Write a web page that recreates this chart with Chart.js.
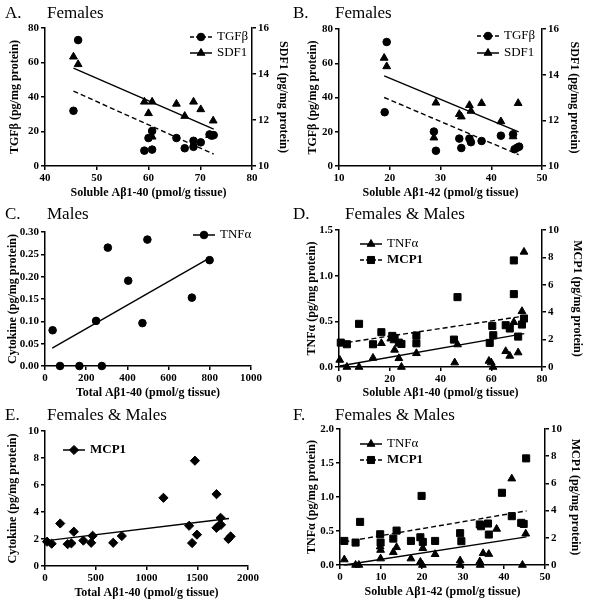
<!DOCTYPE html>
<html>
<head>
<meta charset="utf-8">
<script src="https://cdn.jsdelivr.net/npm/chart.js@4.4.1/dist/chart.umd.min.js"></script>
<style>
    body { margin: 0; background: #fff; }
    #page { position: relative; width: 600px; height: 602px; overflow: hidden; }
    canvas { position: absolute; }
    .head {
        position: absolute;
        font-family: "Liberation Serif", "Times New Roman", serif;
        font-size: 17px;
        line-height: 1;
        color: #000;
        white-space: nowrap;
    }
</style>
</head>
<body>
<div id="page">
    <canvas id="chart_a" width="300" height="200" style="left:0;top:0"></canvas>
    <canvas id="chart_b" width="300" height="200" style="left:300px;top:0"></canvas>
    <canvas id="chart_c" width="300" height="200" style="left:0;top:200px"></canvas>
    <canvas id="chart_d" width="300" height="200" style="left:300px;top:200px"></canvas>
    <canvas id="chart_e" width="300" height="202" style="left:0;top:400px"></canvas>
    <canvas id="chart_f" width="300" height="202" style="left:300px;top:400px"></canvas>

    <div class="head" style="left:5px;top:4px">A.</div>
    <div class="head" style="left:47px;top:4px">Females</div>
    <div class="head" style="left:293px;top:4px">B.</div>
    <div class="head" style="left:335px;top:4px">Females</div>
    <div class="head" style="left:5px;top:205px">C.</div>
    <div class="head" style="left:47px;top:205px">Males</div>
    <div class="head" style="left:293px;top:205px">D.</div>
    <div class="head" style="left:345px;top:205px">Females &amp; Males</div>
    <div class="head" style="left:5px;top:406px">E.</div>
    <div class="head" style="left:47px;top:406px">Females &amp; Males</div>
    <div class="head" style="left:293px;top:406px">F.</div>
    <div class="head" style="left:335px;top:406px">Females &amp; Males</div>
</div>
<script>
// Panel A: soluble Ab1-40, females
var a_tgf_x = [46.4, 45.5, 59.2, 60.0, 60.7, 60.7, 65.4, 67.0, 68.7, 68.7, 70.1, 71.8, 72.2, 72.6];
var a_tgf_y = [73.0, 32.0, 8.9, 16.2, 20.3, 9.5, 16.2, 10.3, 14.6, 11.1, 13.7, 18.3, 17.6, 17.9];
var a_sdf_x = [45.5, 46.4, 59.2, 60.0, 60.7, 60.7, 65.4, 67.0, 68.7, 70.1, 71.8, 72.5];
var a_sdf_y = [14.75, 14.42, 12.79, 12.29, 12.79, 11.27, 12.70, 12.17, 12.79, 12.46, 11.34, 11.97];
var a_fit_tgf = [[45.5, 43.4], [72.6, 6.9]];
var a_fit_sdf = [[45.5, 14.26], [72.6, 11.6]];

// Panel B: soluble Ab1-42, females
var b_tgf_x = [19.4, 19.0, 28.7, 29.1, 33.7, 34.1, 35.7, 36.0, 38.1, 41.9, 44.3, 44.6, 45.1, 45.5];
var b_tgf_y = [72.4, 31.4, 20.1, 8.9, 16.0, 10.5, 16.0, 13.9, 14.6, 17.7, 18.5, 9.8, 10.7, 11.3];
var b_sdf_x = [18.9, 19.4, 29.1, 28.7, 33.7, 34.1, 35.7, 36.0, 38.1, 41.9, 44.3, 45.3];
var b_sdf_y = [14.73, 14.36, 12.77, 11.24, 12.27, 12.16, 12.66, 12.41, 12.75, 11.95, 11.29, 12.75];
var b_fit_tgf = [[18.9, 40.0], [45.4, 6.6]];
var b_fit_sdf = [[18.9, 13.95], [45.4, 11.49]];

// Panel C: total Ab1-40, males
var c_tnf_x = [37, 73, 167, 276, 248, 305, 404, 473, 497, 713, 799];
var c_tnf_y = [0.080, 0, 0, 0, 0.101, 0.265, 0.191, 0.096, 0.283, 0.153, 0.237];
var c_fit_tnf = [[35, 0.040], [800, 0.242]];

// Panel D: soluble Ab1-40, females & males
var d_tnf_x = [0.3, 3.1, 7.9, 13.4, 16.7, 20.4, 21.7, 21.9, 23.6, 24.6, 30.5, 45.6, 46.7, 59.1, 60.0, 60.7, 65.7, 67.3, 68.9, 70.6, 72.1, 72.9];
var d_tnf_y = [0.077, 0, 0, 0.099, 0.26, 0.31, 0.29, 0.187, 0.095, 0, 0.15, 0.048, 0.246, 0.066, 0.048, 0, 0.172, 0.121, 0.49, 0.158, 0.61, 1.26];
var d_mcp_x = [0.7, 3.1, 7.9, 13.4, 16.7, 21.0, 21.9, 23.6, 24.6, 30.5, 30.5, 45.3, 46.7, 59.4, 60.4, 60.8, 65.7, 67.3, 68.9, 68.9, 70.6, 72.1, 72.9];
var d_mcp_y = [1.78, 1.66, 3.15, 1.66, 2.54, 2.27, 2.12, 1.78, 1.68, 2.30, 1.73, 2.0, 5.1, 1.76, 3.0, 2.32, 3.05, 2.81, 7.78, 5.32, 2.22, 3.1, 3.54];
var d_fit_tnf = [[0.3, 0.011], [73.0, 0.366]];
var d_fit_mcp = [[0.3, 1.71], [73.0, 3.72]];

// Panel E: total Ab1-40, females & males
var e_mcp_x = [20, 66, 150, 223, 260, 284, 378, 455, 469, 672, 757, 1167, 1420, 1449, 1477, 1497, 1690, 1689, 1711, 1734, 1730, 1807, 1829];
var e_mcp_y = [1.80, 1.65, 3.15, 1.62, 1.68, 2.54, 1.88, 1.72, 2.24, 1.72, 2.22, 5.05, 2.98, 1.70, 7.80, 2.32, 5.32, 2.83, 2.98, 3.05, 3.57, 2.0, 2.19];
var e_fit_mcp = [[20, 1.88], [1813, 3.52]];

// Panel F: soluble Ab1-42, females & males
var f_tnf_x = [1.05, 3.8, 4.6, 9.8, 9.9, 9.9, 13.0, 13.8, 17.3, 19.6, 20.1, 20.2, 23.2, 29.3, 29.3, 34.1, 34.2, 34.9, 36.3, 38.2, 41.9, 44.5, 45.3];
var f_tnf_y = [0.08, 0, 0, 0.27, 0.22, 0.094, 0.187, 0.26, 0.094, 0.044, 0, 0.246, 0.158, 0.065, 0, 0.05, 0, 0.172, 0.16, 0.53, 1.27, 0, 0.46];
var f_mcp_x = [1.05, 3.8, 4.9, 9.8, 9.9, 13.0, 13.8, 17.3, 19.6, 19.9, 20.2, 23.2, 29.3, 29.6, 34.1, 34.4, 36.1, 36.3, 39.5, 41.9, 44.2, 44.8, 45.4];
var f_mcp_y = [1.77, 1.65, 3.17, 2.26, 1.65, 1.94, 2.53, 1.77, 2.04, 5.08, 1.70, 1.77, 2.34, 1.75, 2.98, 2.85, 3.05, 2.24, 5.31, 3.59, 3.1, 3.02, 7.84];
var f_fit_tnf = [[1.05, 0.0], [45.5, 0.413]];
var f_fit_mcp = [[1.05, 1.70], [45.5, 3.98]];

var SERIF = '"Liberation Serif", "Times New Roman", serif';

function pts(xs, ys) {
    return xs.map(function (x, i) { return {x: x, y: ys[i]}; });
}

function pair(arr) {
    return arr.map(function (p) { return {x: p[0], y: p[1]}; });
}

function scatter_set(xs, ys, shape, radius, axis) {
    return {
        data: pts(xs, ys),
        yAxisID: axis,
        pointStyle: shape,
        pointRadius: radius,
        pointBackgroundColor: "#000",
        pointBorderColor: "#000",
        pointBorderWidth: 1,
        showLine: false,
        clip: false
    };
}

function fit_set(arr, axis, dashed) {
    return {
        data: pair(arr),
        yAxisID: axis,
        showLine: true,
        borderColor: "#000",
        borderWidth: 1.4,
        borderDash: dashed ? [5, 3] : [],
        pointRadius: 0,
        clip: false
    };
}

function make_axis(o, pos, fit_fn) {
    return {
        type: "linear",
        position: pos,
        min: o.min,
        max: o.max,
        afterFit: fit_fn,
        ticks: {
            stepSize: o.step,
            autoSkip: false,
            color: "#000",
            padding: 2,
            font: {family: SERIF, size: 11, weight: "bold"},
            callback: function (v) { return Number(v).toFixed(o.dec || 0); }
        },
        grid: {drawOnChartArea: false, drawTicks: true, tickLength: 4, color: "#000", lineWidth: 1.5},
        border: {color: "#000", width: 1.5},
        title: {
            display: true,
            text: o.title,
            color: "#000",
            font: {family: SERIF, size: 12, weight: "bold", lineHeight: 1},
            padding: {top: o.tpad, bottom: o.tpad}
        }
    };
}

// Legend drawn inside the plot: line sample, marker, label
var panel_legend = {
    id: "panel_legend",
    afterDraw: function (chart, args, opts) {
        var ctx = chart.ctx;

        opts.items.forEach(function (it, i) {
            var y = opts.y + i * opts.dy;

            ctx.save();
            ctx.strokeStyle = "#000";
            ctx.fillStyle = "#000";
            ctx.lineWidth = 1.5;
            ctx.setLineDash(it.dash || []);
            ctx.beginPath();
            ctx.moveTo(opts.x, y);
            ctx.lineTo(opts.x + 22, y);
            ctx.stroke();
            ctx.setLineDash([]);
            ctx.lineWidth = 1;
            Chart.helpers.drawPoint(ctx, {pointStyle: it.shape, radius: it.radius, borderWidth: 1, rotation: 0}, opts.x + 11, y);
            ctx.font = (it.bold ? "bold " : "") + "13px " + SERIF;
            ctx.textBaseline = "middle";
            ctx.textAlign = "left";
            ctx.fillText(it.label, opts.x + 27, y);
            ctx.restore();
        });
    }
};

function make_panel(id, cfg) {
    var H = cfg.h || 200;
    var area = cfg.area;
    var scales = {
        x: make_axis(cfg.x, "bottom", function (s) { s.height = H - area.b; }),
        y: make_axis(cfg.y, "left", function (s) { s.width = area.l; })
    };

    if (cfg.y2) {
        scales.y2 = make_axis(cfg.y2, "right", function (s) { s.width = 300 - area.r; });
    }

    new Chart(document.getElementById(id), {
        type: "scatter",
        data: {datasets: cfg.datasets},
        options: {
            responsive: false,
            animation: false,
            events: [],
            layout: {padding: {top: area.t, left: 0, bottom: 0, right: cfg.y2 ? 0 : 300 - area.r}},
            scales: scales,
            plugins: {
                legend: {display: false},
                tooltip: {enabled: false},
                panel_legend: cfg.legend
            }
        },
        plugins: [panel_legend]
    });
}

make_panel("chart_a", {
    area: {l: 45, t: 28, r: 252, b: 166},
    x: {min: 40, max: 80, step: 10, title: "Soluble A\u03b21-40 (pmol/g tissue)", tpad: 1},
    y: {min: 0, max: 80, step: 20, title: "TGF\u03b2 (pg/mg protein)", tpad: 9},
    y2: {min: 10, max: 16, step: 2, title: "SDF1 (pg/mg protein)", tpad: 11},
    datasets: [
        scatter_set(a_tgf_x, a_tgf_y, "circle", 3.8, "y"),
        scatter_set(a_sdf_x, a_sdf_y, "triangle", 4.5, "y2"),
        fit_set(a_fit_tgf, "y", true),
        fit_set(a_fit_sdf, "y2", false)
    ],
    legend: {x: 190, y: 37, dy: 16, items: [
        {label: "TGF\u03b2", shape: "circle", radius: 3.8, dash: [4, 2]},
        {label: "SDF1", shape: "triangle", radius: 4.5}
    ]}
});

make_panel("chart_b", {
    area: {l: 39, t: 29, r: 242, b: 166},
    x: {min: 10, max: 50, step: 10, title: "Soluble A\u03b21-42 (pmol/g tissue)", tpad: 1},
    y: {min: 0, max: 80, step: 20, title: "TGF\u03b2 (pg/mg protein)", tpad: 7},
    y2: {min: 10, max: 16, step: 2, title: "SDF1 (pg/mg protein)", tpad: 20},
    datasets: [
        scatter_set(b_tgf_x, b_tgf_y, "circle", 3.8, "y"),
        scatter_set(b_sdf_x, b_sdf_y, "triangle", 4.5, "y2"),
        fit_set(b_fit_tgf, "y", true),
        fit_set(b_fit_sdf, "y2", false)
    ],
    legend: {x: 177, y: 36, dy: 17, items: [
        {label: "TGF\u03b2", shape: "circle", radius: 3.8, dash: [4, 2]},
        {label: "SDF1", shape: "triangle", radius: 4.5}
    ]}
});

make_panel("chart_c", {
    area: {l: 45, t: 32, r: 251, b: 166},
    x: {min: 0, max: 1000, step: 200, title: "Total A\u03b21-40 (pmol/g tissue)", tpad: 1},
    y: {min: 0, max: 0.3, step: 0.05, dec: 2, title: "Cytokine (pg/mg protein)", tpad: 7},
    datasets: [
        scatter_set(c_tnf_x, c_tnf_y, "circle", 3.8, "y"),
        fit_set(c_fit_tnf, "y", false)
    ],
    legend: {x: 193, y: 35, dy: 16, items: [
        {label: "TNF\u03b1", shape: "circle", radius: 3.8}
    ]}
});

make_panel("chart_d", {
    area: {l: 39, t: 30, r: 242, b: 167},
    x: {min: 0, max: 80, step: 20, title: "Soluble A\u03b21-40 (pmol/g tissue)", tpad: 1},
    y: {min: 0, max: 1.5, step: 0.5, dec: 1, title: "TNF\u03b1 (pg/mg protein)", tpad: 6},
    y2: {min: 0, max: 10, step: 2, title: "MCP1 (pg/mg protein)", tpad: 17},
    datasets: [
        scatter_set(d_tnf_x, d_tnf_y, "triangle", 4.5, "y"),
        scatter_set(d_mcp_x, d_mcp_y, "rect", 5, "y2"),
        fit_set(d_fit_tnf, "y", false),
        fit_set(d_fit_mcp, "y2", true)
    ],
    legend: {x: 60, y: 44, dy: 16, items: [
        {label: "TNF\u03b1", shape: "triangle", radius: 4.5},
        {label: "MCP1", shape: "rect", radius: 5, dash: [4, 2], bold: true}
    ]}
});

make_panel("chart_e", {
    h: 202,
    area: {l: 45, t: 31, r: 248, b: 166},
    x: {min: 0, max: 2000, step: 500, title: "Total A\u03b21-40 (pmol/g tissue)", tpad: 3},
    y: {min: 0, max: 10, step: 2, title: "Cytokine (pg/mg protein)", tpad: 7},
    datasets: [
        scatter_set(e_mcp_x, e_mcp_y, "rectRot", 4.6, "y"),
        fit_set(e_fit_mcp, "y", false)
    ],
    legend: {x: 63, y: 50, dy: 16, items: [
        {label: "MCP1", shape: "rectRot", radius: 4.6, bold: true}
    ]}
});

make_panel("chart_f", {
    h: 202,
    area: {l: 40, t: 29, r: 245, b: 165},
    x: {min: 0, max: 50, step: 10, title: "Soluble A\u03b21-42 (pmol/g tissue)", tpad: 4},
    y: {min: 0, max: 2, step: 0.5, dec: 1, title: "TNF\u03b1 (pg/mg protein)", tpad: 6},
    y2: {min: 0, max: 10, step: 2, title: "MCP1 (pg/mg protein)", tpad: 19},
    datasets: [
        scatter_set(f_tnf_x, f_tnf_y, "triangle", 4.5, "y"),
        scatter_set(f_mcp_x, f_mcp_y, "rect", 5, "y2"),
        fit_set(f_fit_tnf, "y", false),
        fit_set(f_fit_mcp, "y2", true)
    ],
    legend: {x: 60, y: 44, dy: 16, items: [
        {label: "TNF\u03b1", shape: "triangle", radius: 4.5},
        {label: "MCP1", shape: "rect", radius: 5, dash: [4, 2], bold: true}
    ]}
});
</script>
</body>
</html>
